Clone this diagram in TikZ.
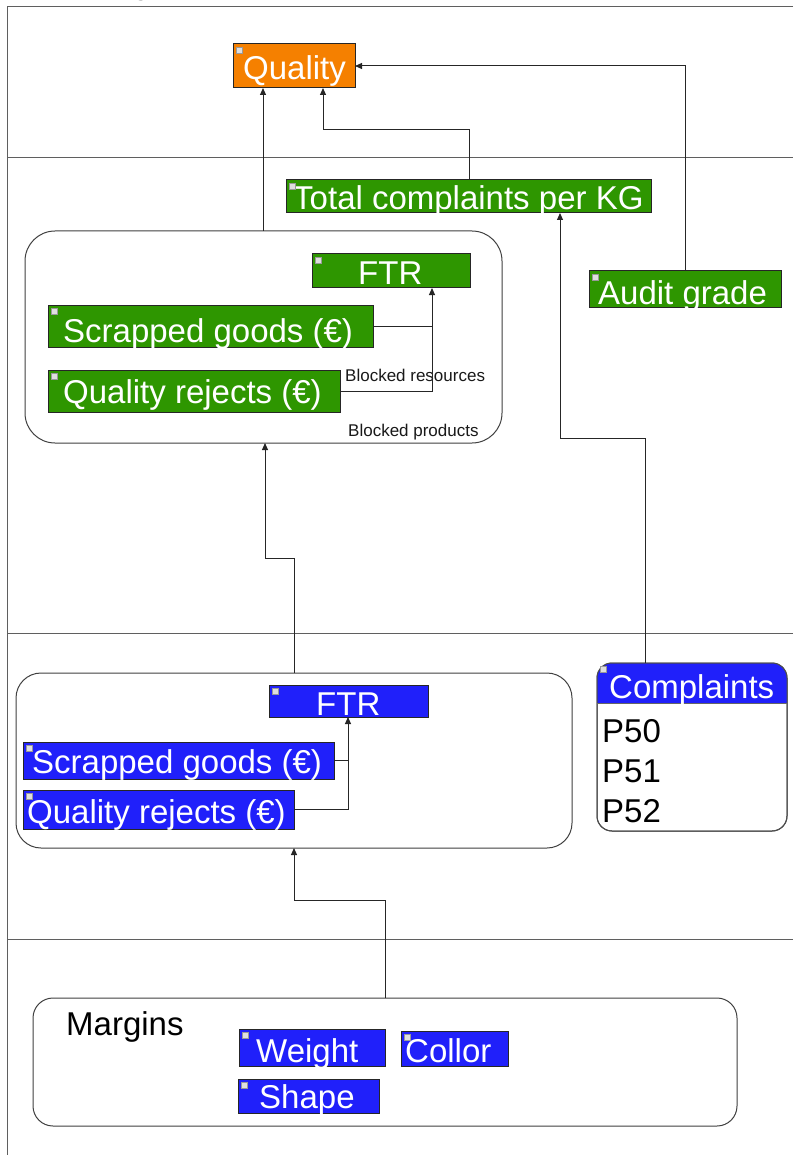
\documentclass[tikz,border=0pt]{standalone}
\usepackage{fontspec}
\setmainfont{Liberation Sans}
\usetikzlibrary{arrows.meta,calc}
\definecolor{kpigreen}{RGB}{46,150,0}
\definecolor{kpiblue}{RGB}{32,32,250}
\definecolor{kpiorange}{RGB}{245,128,0}
\definecolor{framegray}{RGB}{95,95,95}
\begin{document}
\begin{tikzpicture}[x=1pt,y=-1pt,
  cb/.style={draw=black!85, line width=1pt, anchor=north west, inner sep=0pt, outer sep=0pt},
  grp/.style={draw=black!75, line width=1pt, anchor=north west, inner sep=0pt, outer sep=0pt, fill=white},
  wt/.style={text=white, font=\fontsize{33}{38}\selectfont, inner sep=0pt, anchor=base west},
  bt/.style={text=black, font=\fontsize{33}{38}\selectfont, inner sep=0pt, anchor=base west},
  st/.style={text=black!90, font=\fontsize{17}{20}\selectfont, inner sep=0pt, anchor=base west},
  icon/.style={draw=gray!80, fill=gray!25, line width=0.5pt, minimum size=6pt, inner sep=0pt, anchor=north west},
  con/.style={draw=black!85, line width=1pt},
  arr/.style={con, -{Triangle[length=7pt,width=6pt]}},
  frame/.style={draw=framegray, line width=1pt}]
\useasboundingbox (0,0) rectangle (793,1155);

% pool title, mostly above the page edge
\node[text=black, font=\bfseries\fontsize{30}{36}\selectfont, inner sep=0pt, anchor=base west] (pool) at (52,-5) {Quality};

% swimlane frame
\draw[frame] (793,7) -- (7,7) -- (7,1155);
\draw[frame] (7,158) -- (793,158);
\draw[frame] (7,633) -- (793,633);
\draw[frame] (7,939) -- (793,939);

% top lane
\node[cb, fill=kpiorange, minimum width=122pt, minimum height=44pt] (qual) at (233,44) {};
\node[wt] (qualt) at (243,80) {Quality};

% second lane
\node[cb, fill=kpigreen, minimum width=365pt, minimum height=33pt] (tcpk) at (286,180) {};
\node[wt] (tcpkt) at (293,210) {Total complaints per KG};
\node[cb, fill=kpigreen, minimum width=192pt, minimum height=36pt] (audit) at (589,271) {};
\node[wt] (auditt) at (598,304) {Audit grade};

\node[grp, rounded corners=30pt, minimum width=477pt, minimum height=212pt] (ggrp) at (25,231) {};
\node[cb, fill=kpigreen, minimum width=158pt, minimum height=34pt] (gftr) at (312,254) {};
\node[wt] (gftrt) at (358,285) {FTR};
\node[cb, fill=kpigreen, minimum width=325pt, minimum height=42pt] (gscr) at (48,305) {};
\node[wt] (gscrt) at (63,342) {Scrapped goods (€)};
\node[cb, fill=kpigreen, minimum width=292pt, minimum height=42pt] (grej) at (48,370) {};
\node[wt] (grejt) at (63,403) {Quality rejects (€)};
\node[st] (bres) at (345,381) {Blocked resources};
\node[st] (bprod) at (348,436) {Blocked products};

% third lane
\node[grp, rounded corners=25pt, minimum width=556pt, minimum height=175pt] (bgrp) at (16,673) {};
\node[cb, fill=kpiblue, minimum width=159pt, minimum height=32pt] (bftr) at (269,685) {};
\node[wt] (bftrt) at (316,715) {FTR};
\node[cb, fill=kpiblue, minimum width=311pt, minimum height=37pt] (bscr) at (23,742) {};
\node[wt] (bscrt) at (32,773) {Scrapped goods (€)};
\node[cb, fill=kpiblue, minimum width=271pt, minimum height=39pt] (brej) at (23,790) {};
\node[wt] (brejt) at (27,823) {Quality rejects (€)};

\node[grp, rounded corners=15pt, minimum width=190pt, minimum height=168pt] (cmp) at (597,663) {};
\coordinate (cmph) at (0,703);
\begin{scope}
  \clip[rounded corners=15pt] (cmp.north west) rectangle (cmp.south east);
  \fill[kpiblue] (cmp.north west) rectangle (cmp.east |- cmph);
\end{scope}
\draw[con, draw=black!70, rounded corners=15pt] (cmp.north west) rectangle (cmp.south east);
\draw[con, draw=black!60, line width=0.6pt] (cmp.west |- cmph) -- (cmp.east |- cmph);
\node[wt] (cmpt) at (609,698) {Complaints};
\node[bt] (p50) at (602,742) {P50};
\node[bt] (p51) at (602,782) {P51};
\node[bt] (p52) at (602,822) {P52};

% bottom lane
\node[grp, rounded corners=20pt, minimum width=704pt, minimum height=128pt] (mgrp) at (33,998) {};
\node[bt] (mgrpt) at (66,1035) {Margins};
\node[cb, fill=kpiblue, minimum width=146pt, minimum height=37pt] (wgt) at (239,1029) {};
\node[wt] (wgtt) at (256,1062) {Weight};
\node[cb, fill=kpiblue, minimum width=107pt, minimum height=35pt] (col) at (401,1031) {};
\node[wt] (colt) at (405,1062) {Collor};
\node[cb, fill=kpiblue, minimum width=141pt, minimum height=34pt] (shp) at (238,1079) {};
\node[wt] (shpt) at (259,1108) {Shape};

% expand/collapse markers
\foreach \n in {qual,tcpk,audit,gftr,gscr,grej,bftr,bscr,brej,cmp,wgt,col,shp}
  \node[icon] (\n-ic) at ([shift={(3pt,-3pt)}]\n.north west) {};

% bend points
\coordinate (xq1) at (263,0);
\coordinate (xq2) at (323,0);
\coordinate (xt) at (469,0);
\coordinate (yt) at (0,130);
\coordinate (xa) at (685,0);
\coordinate (xc) at (560,0);
\coordinate (xcm) at (645,0);
\coordinate (yc) at (0,438);
\coordinate (xg) at (432,0);
\coordinate (xgb) at (265,0);
\coordinate (xb) at (294,0);
\coordinate (yb) at (0,558);
\coordinate (xbf) at (348,0);
\coordinate (xm) at (385,0);
\coordinate (ym) at (0,900);

% connectors
\draw[arr] (ggrp.north -| xq1) -- (qual.south -| xq1);
\draw[arr] (tcpk.north -| xt) -- (xt |- yt) -- (xq2 |- yt) -- (qual.south -| xq2);
\draw[arr] (audit.north -| xa) -- (xa |- qual.east) -- (qual.east);
\draw[arr] (cmp.north -| xcm) -- (xcm |- yc) -- (xc |- yc) -- (tcpk.south -| xc);
\draw[con] (gscr.east) -- (gscr.east -| xg);
\draw[arr] (grej.east) -- (grej.east -| xg) -- (gftr.south -| xg);
\draw[arr] (bgrp.north -| xb) -- (xb |- yb) -- (xgb |- yb) -- (ggrp.south -| xgb);
\draw[con] (bscr.east) -- (bscr.east -| xbf);
\draw[arr] (brej.east) -- (brej.east -| xbf) -- (bftr.south -| xbf);
\draw[arr] (mgrp.north -| xm) -- (xm |- ym) -- (xb |- ym) -- (bgrp.south -| xb);
\end{tikzpicture}
\end{document}
